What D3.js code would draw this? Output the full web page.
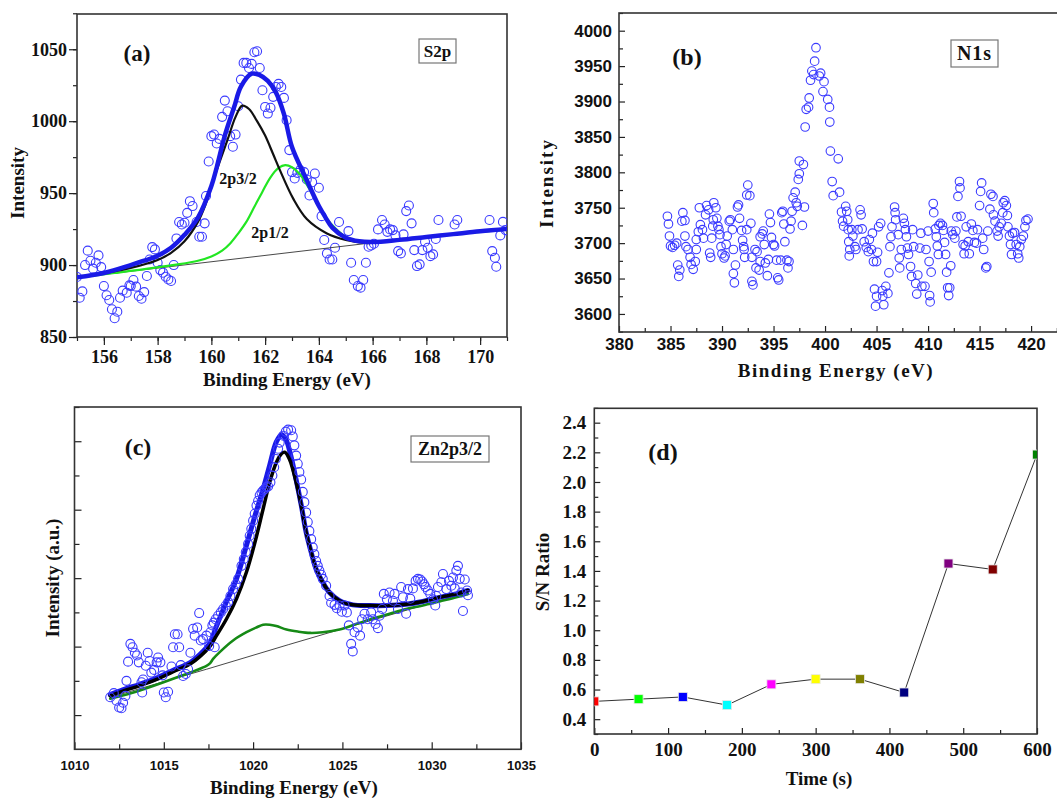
<!DOCTYPE html>
<html><head><meta charset="utf-8">
<script src="https://cdn.jsdelivr.net/npm/d3@7"></script>
<style>body{margin:0;background:#fff} svg{display:block}</style>
</head><body><script>
// ---------- (a) S2p spectrum ----------
const s2pPoints = [
[155.0,891.7],[155.1,877.3],[155.2,881.7],[155.3,900],[155.4,910],[155.5,903],[155.6,897.5],[155.7,901.6],[155.8,906.7],[155.9,898.6],
[156.0,885.4],[156.1,879],[156.2,875.7],[156.3,869.3],[156.4,863],[156.5,867.6],[156.6,877.3],[156.7,882.2],[156.85,880.8],[156.95,885.9],
[157.0,885.4],[157.1,889.6],[157.2,885],[157.3,878.5],[157.4,876.6],[157.5,881.2],[157.6,892.4],[157.7,903.9],[157.8,912.5],[157.9,910.9],
[158.0,901.6],[158.1,896.5],[158.2,894.7],[158.3,891.9],[158.4,890],[158.5,888.9],[158.6,900],[158.7,918.5],[158.8,929.9],[158.9,928.2],
[159.0,929.4],[159.1,936.3],[159.2,944.4],[159.3,941],[159.45,929.9],[159.55,919.7],[159.65,919.7],[159.75,929],[159.8,948],[159.9,972],
[160.0,989.6],[160.1,990.7],[160.2,984.5],[160.3,987.7],[160.4,1003],[160.5,1014.3],[160.6,1006.9],[160.7,989.6],[160.8,982.2],[160.9,990.7],
[161.0,1010.4],[161.1,1028.9],[161.2,1040.5],[161.3,1040.5],[161.4,1037],[161.5,1039.8],[161.6,1047.9],[161.7,1048.6],[161.8,1037],[161.9,1021.5],
[162.0,1009.9],[162.1,1005.3],[162.2,1009.3],[162.3,1016.9],[162.4,1023.8],[162.5,1025.9],[162.6,1023.8],[162.7,1016.2],[162.8,1000.7],[162.9,979.9],
[163.0,964.6],[163.1,960.2],[163.2,964.1],[163.3,966],[163.45,964.6],[163.55,959.5],[163.65,948.4],[163.75,957.6],[163.85,963.6],[164.0,953.7],
[164.1,934],[164.2,917.4],[164.3,908.1],[164.4,903.9],[164.5,903.9],[164.6,912],[164.75,929.9],[165.1,923.6],[165.2,901.6],[165.3,889.6],
[165.45,885.4],[165.55,884.3],[165.65,889.6],[165.75,901.6],[165.85,912.7],[165.95,913.6],[166.05,914.8],[166.2,924.8],[166.35,931.3],[166.45,928.2],
[166.55,923.1],[166.65,924.8],[166.75,924.3],[166.85,920.6],[166.95,909.7],[167.05,908.1],[167.15,921.3],[167.25,937.5],[167.35,941.4],[167.45,929],
[167.55,910.4],[167.65,899.3],[167.75,900.5],[167.85,910.4],[167.95,916.2],[168.05,912],[168.15,906.2],[168.25,907.4],[168.35,918.1],[168.45,931.3],
[169.05,928.2],[169.15,931.3],[170.35,931.3],[170.45,909.7],[170.55,905.1],[170.6,898.8],[170.75,920.6],[170.85,930],[170.95,924.3]
];
const s2pEnvelope = [
[155,891.5],[156,894.5],[157,900],[157.5,903],[158,906.5],[158.5,912],[159,921],[159.5,933],[160,955],[160.2,968],[160.5,990],
[160.85,1010],[161.1,1024],[161.5,1033],[161.8,1032],[162.1,1028],[162.4,1020],[162.7,1005],[163.0,982],[163.5,961],[164.0,941],
[164.25,933],[164.5,926],[165,919],[165.5,916.5],[166,916],[167,917.5],[168,919.5],[169,921.5],[170,923.5],[171,925]
];
const s2p3half = [
[155,891.3],[157,898],[158,903.5],[158.5,908.5],[159,916.5],[159.5,930],[159.8,943],[160.2,966],[160.6,987],[160.9,1003],
[161.15,1010.8],[161.4,1008.5],[161.7,1000],[162.0,990],[162.3,977],[162.55,966],[163.05,946],[163.55,932],[164.3,922],[165,917.5],[165.8,915.3],[166,915.5]
];
const s2p1half = [
[155,891.3],[156.4,894.5],[158.7,900.3],[159.5,903],[160,906],[160.4,910],[160.7,915],[161.0,922],[161.3,930],[161.6,940.5],[161.9,951],
[162.2,961],[162.5,967.5],[162.75,969.5],[163.0,968],[163.3,963],[163.8,948],[164.3,932],[164.7,924],[165.0,919.5],[165.5,916.5],[166,916],
[168,919.5],[171,924.8]
];
const s2pBaseline = [[155,891.3],[166,915.5]];

// ---------- (b) N1s spectrum ----------
const n1sPoints = [
[384.7,3738],[384.8,3727],[384.9,3710],[385.0,3696],[385.2,3694],[385.4,3697],[385.6,3700],[385.7,3669],[385.9,3662],[385.8,3653],
[386.2,3743],[386.1,3731],[386.4,3732],[386.4,3710],[386.5,3695],[386.7,3691],[386.9,3680],[387.0,3670],[387.2,3663],[387.4,3674],
[387.5,3691],[387.5,3705],[387.7,3716],[387.8,3750],[387.9,3726],[388.1,3719],[388.2,3707],[388.4,3740],[388.5,3753],[388.7,3747],
[388.8,3686],[388.9,3680],[389.0,3707],[389.1,3724],[389.15,3733],[389.2,3757],[389.4,3750],[389.5,3735],[389.6,3724],[389.7,3719],
[389.8,3712],[389.9,3695],[390.0,3685],[390.2,3679],[390.3,3682],[390.4,3698],[390.5,3710],[390.7,3731],[390.8,3733],[391.0,3719],
[391.1,3691],[391.1,3657],[391.2,3644],[391.3,3669],[391.5,3751],[391.6,3754],[391.7,3735],[391.9,3718],[392.0,3704],[392.1,3695],
[392.15,3691],[392.2,3680],[392.4,3719],[392.5,3782],[392.4,3768],[392.7,3767],[392.8,3728],[392.9,3680],[392.9,3646],[393.0,3641],
[393.2,3691],[393.3,3665],[393.4,3688],[393.6,3662],[393.7,3674],[393.7,3709],[393.9,3713],[394.0,3717],[394.1,3698],[394.2,3672],
[394.4,3654],[394.5,3677],[394.6,3741],[394.7,3729],[394.8,3708],[395.0,3698],[395.1,3696],[395.3,3676],[395.4,3651],[395.5,3648],
[395.7,3676],[395.8,3743],[395.9,3745],[396.0,3727],[396.1,3702],[396.3,3676],[396.4,3665],[396.5,3674],[396.6,3720],[396.7,3731],
[396.8,3745],[396.9,3764],[397.1,3772],[397.2,3757],[397.3,3752],[397.4,3790],[397.5,3798],[397.5,3816],[397.9,3811],[397.8,3725],
[398.0,3751],
[398.07,3864],[398.17,3889],[398.46,3905],[398.4,3892],[398.59,3930],[398.72,3943],[398.89,3938],[398.99,3957],[399.12,3976],[399.44,3936],
[399.57,3940],[399.9,3928],[399.8,3914],[400.26,3903],[400.43,3892],[400.46,3871],[400.52,3830],[400.69,3787],[400.79,3767],[401.28,3819],
[401.41,3772],
[401.6,3744],[401.7,3731],[401.8,3724],[402.0,3752],[402.1,3745],[402.2,3733],[402.25,3719],[402.3,3702],[402.4,3691],[402.35,3682],
[402.6,3719],[402.7,3710],[402.9,3695],[403.0,3691],[403.2,3719],[403.4,3747],[403.5,3740],[403.6,3720],[403.8,3702],[404.0,3694],
[404.2,3688],[404.3,3705],[404.5,3691],[404.6,3714],[404.7,3674],[405.0,3674],[405.1,3687],[405.2,3723],[405.4,3728],[404.8,3635],
[405.0,3625],[404.9,3611],[405.55,3633],[405.6,3625],[405.7,3613],[405.9,3639],[406.1,3629],[406.2,3658],[406.3,3695],[406.4,3709],
[406.5,3723],[406.75,3751],[406.8,3743],[406.85,3733],[407.1,3712],[407.2,3679],[407.25,3665],[407.4,3691],[407.6,3735],[407.7,3728],
[407.8,3719],[407.9,3709],[408.0,3693],[408.1,3684],[408.3,3667],[408.4,3653],[408.5,3719],[408.6,3695],[408.8,3643],[408.9,3628],
[409.0,3655],[409.2,3693],[409.3,3714],[409.4,3639],[409.7,3639],[409.8,3691],[410.0,3717],[410.1,3674],[410.15,3626],[410.2,3617],
[410.3,3659],[410.5,3756],[410.55,3743],[410.7,3720],[410.8,3709],[410.9,3696],[411.0,3684],[411.05,3725],[411.2,3728],[411.4,3725],
[411.5,3718],[411.6,3701],[411.7,3684],[411.8,3659],[411.9,3637],[412.0,3626],[412.1,3637],[412.2,3668],[412.25,3717],[412.4,3712],
[412.6,3707],[412.7,3717],[412.8,3737],[412.9,3766],[413.05,3787],[413.1,3778],[413.2,3738],[413.4,3698],[413.5,3685],[413.6,3696],
[413.7,3723],[413.9,3702],[414.0,3685],[414.2,3727],[414.35,3718],[414.5,3701],[414.7,3700],[414.8,3719],[415.0,3753],[415.1,3773],
[415.2,3785],[415.3,3707],[415.4,3691],[415.6,3665],[415.7,3667],[415.8,3717],[416.0,3748],[416.1,3769],[416.3,3766],[416.35,3740],
[416.5,3731],[416.7,3717],[416.8,3710],[416.9,3723],[417.1,3728],[417.25,3743],[417.3,3757],[417.45,3760],[417.6,3753],[417.7,3739],
[417.75,3723],[417.9,3710],[418.0,3698],[418.1,3684],[418.2,3714],[418.4,3715],[418.55,3698],[418.7,3685],[418.8,3679],[418.9,3695],
[419.05,3705],[419.25,3710],[419.4,3723],[419.5,3732],[419.7,3734]
];

// ---------- (c) Zn2p3/2 spectrum ----------
const znPoints = [
[1012.0,1.26],[1012.2,1.32],[1012.35,1.21],[1012.5,1.11],[1012.63,1.10],[1012.72,1.18],[1012.85,1.28],[1012.91,1.50],[1013.0,1.78],[1013.13,2.04],
[1013.25,1.99],[1013.38,1.91],[1013.5,1.87],[1013.6,1.77],[1013.75,1.48],[1013.79,1.33],[1013.84,1.52],[1013.99,1.72],[1014.1,1.91],[1014.2,1.79],
[1014.3,1.62],[1014.46,1.66],[1014.6,1.77],[1014.68,1.84],[1014.81,1.77],[1014.93,1.58],[1015.0,1.33],[1015.11,1.26],[1015.24,1.34],[1015.43,1.71],
[1015.52,1.99],[1015.62,2.18],[1015.77,2.18],[1015.86,1.99],[1015.95,1.73],[1016.08,1.57],[1016.23,1.60],[1016.36,1.67],[1016.49,1.91],[1016.64,2.26],
[1016.73,2.16],[1016.87,2.28],[1016.98,2.49],[1017.07,2.09],[1017.2,2.11],[1017.39,2.16],[1017.54,2.01],[1017.61,2.21],[1017.72,2.31],[1017.8,2.35],
[1017.85,1.99],[1017.9,2.40],[1018.04,2.45],[1018.19,2.50],[1018.32,2.55],[1018.47,2.60],[1018.6,2.65],[1018.73,2.74],[1018.88,2.84],[1019.03,2.91],
[1019.16,2.99],[1019.35,3.18],[1019.48,3.28],[1019.59,3.38],[1019.72,3.50],[1019.81,3.62],[1019.9,3.72],[1020.0,3.84],[1020.09,3.94],[1020.19,4.06],
[1020.28,4.13],[1020.37,4.21],[1020.47,4.25],[1020.56,4.28],[1020.65,4.30],[1020.75,4.33],[1020.84,4.34],[1020.97,4.40],[1021.08,4.50],[1021.18,4.62],
[1021.27,4.74],[1021.4,4.89],[1021.49,4.98],[1021.68,5.08],[1021.83,5.14],[1021.96,5.17],
[1022.13,5.16],[1022.22,5.07],[1022.31,4.94],[1022.41,4.79],[1022.5,4.67],[1022.59,4.55],[1022.69,4.44],[1022.78,4.26],[1022.87,4.11],[1022.97,3.96],
[1023.06,3.82],[1023.15,3.69],[1023.25,3.57],[1023.34,3.45],[1023.43,3.35],[1023.53,3.25],[1023.62,3.18],[1023.71,3.11],[1023.81,3.05],[1023.9,2.99],
[1024.09,2.89],[1024.28,2.74],[1024.37,2.64],[1024.56,2.61],[1024.69,2.56],[1024.84,2.60],[1024.97,2.51],[1025.12,2.60],[1025.25,2.50],[1025.36,2.31],
[1025.49,2.04],[1025.58,1.93],[1025.68,2.21],[1025.86,2.28],[1025.99,2.16],[1026.1,2.40],[1026.24,2.48],[1026.42,2.40],[1026.61,2.50],[1026.7,2.40],
[1026.86,2.33],[1026.99,2.27],[1027.08,2.45],[1027.23,2.55],[1027.32,2.77],[1027.49,2.69],[1027.64,2.79],[1027.83,2.67],[1027.92,2.77],[1028.11,2.55],
[1028.29,2.87],[1028.39,2.72],[1028.57,2.48],[1028.67,2.84],[1028.8,2.70],[1028.95,2.85],[1029.1,2.96],[1029.23,2.99],[1029.36,2.98],[1029.47,2.95],
[1029.57,2.91],[1029.66,2.87],[1029.79,2.82],[1029.92,2.77],[1030.07,2.69],[1030.2,2.60],[1030.26,2.74],[1030.35,2.87],[1030.54,2.94],[1030.63,3.06],
[1030.82,2.84],[1030.97,2.96],[1031.1,2.89],[1031.19,3.01],[1031.29,2.85],[1031.38,3.11],[1031.47,3.18],[1031.57,2.99],[1031.66,2.79],[1031.75,2.52],
[1031.85,2.98],[1031.98,2.82],[1032.03,2.75]
];
const znEnvelope = [
[1012,1.30],[1012.7,1.37],[1013.66,1.45],[1014.6,1.54],[1015.5,1.65],[1016.5,1.77],[1017.0,1.88],[1017.57,2.05],[1017.95,2.30],[1018.5,2.65],
[1019.07,2.99],[1019.63,3.48],[1020.1,3.91],[1020.56,4.30],[1020.93,4.65],[1021.3,4.99],[1021.6,5.10],[1021.85,5.02],[1022.1,4.80],[1022.4,4.45],
[1022.7,4.06],[1022.97,3.67],[1023.25,3.38],[1023.53,3.13],[1023.9,2.94],[1024.28,2.79],[1024.84,2.67],[1025.58,2.61],[1026.5,2.60],[1027.45,2.60],
[1028.57,2.62],[1029.5,2.66],[1030.44,2.72],[1031.38,2.77],[1032.03,2.82]
];
const znMainPeak = [
[1012,1.28],[1012.7,1.35],[1013.66,1.43],[1014.6,1.52],[1015.5,1.63],[1016.5,1.75],[1017.0,1.85],[1017.57,2.00],[1017.95,2.16],[1018.5,2.40],
[1019.07,2.70],[1019.63,3.09],[1020.1,3.52],[1020.56,4.01],[1020.93,4.40],[1021.3,4.69],[1021.6,4.82],[1021.77,4.84],[1022.03,4.74],[1022.41,4.40],
[1022.69,4.06],[1022.97,3.67],[1023.25,3.38],[1023.53,3.13],[1023.9,2.94],[1024.28,2.79],[1024.84,2.67],[1025.58,2.61],[1026.5,2.60],[1027.45,2.60],
[1028.57,2.62],[1029.5,2.66],[1030.44,2.72],[1031.38,2.77],[1032.03,2.82]
];
const znSecondPeak = [
[1012,1.24],[1013.66,1.36],[1015.52,1.53],[1017.39,1.72],[1017.6,1.76],[1017.76,1.82],[1018.13,1.92],[1018.88,2.09],[1019.63,2.21],[1020.19,2.28],
[1020.56,2.32],[1020.93,2.32],[1021.3,2.30],[1021.87,2.25],[1022.5,2.22],[1023.2,2.20],[1023.9,2.21],[1024.84,2.25],[1025.77,2.33],[1026.7,2.41],
[1027.64,2.48],[1028.57,2.55],[1029.5,2.60],[1030.44,2.66],[1031.38,2.72],[1032.03,2.77]
];
const znBaseline = [[1012,1.26],[1017.4,1.67],[1022.0,2.03],[1025,2.26],[1032,2.79]];

// ---------- (d) S/N ratio vs time ----------
const snTime   = [0, 60, 120, 180, 240, 300, 360, 420, 480, 540, 600];
const snRatio  = [0.52, 0.535, 0.55, 0.495, 0.635, 0.67, 0.67, 0.58, 1.45, 1.41, 2.185];
const snColors = ['#ff0000','#00ff00','#0000ff','#00ffff','#ff00ff','#ffff00','#808000','#000080','#800080','#800000','#008000'];

const serif = '"Liberation Serif","Times New Roman",serif';
const sans = '"Liberation Sans",Arial,sans-serif';

const svg = d3.select('body').append('svg').attr('width', 1057).attr('height', 798)
  .style('font-family', serif);

function range(a, b, s) { const r = []; for (let v = a; v <= b + 1e-9; v += s) r.push(+v.toFixed(4)); return r; }

function makePanel(p) {
  const x = d3.scaleLinear().domain(p.xDomain).range([p.left, p.right]);
  const y = d3.scaleLinear().domain(p.yDomain).range([p.bottom, p.top]);
  const g = svg.append('g');
  svg.append('clipPath').attr('id', 'clip-' + p.id).append('rect')
    .attr('x', p.left).attr('y', p.top).attr('width', p.right - p.left).attr('height', p.bottom - p.top);
  const s = p.inward ? -1 : 1;

  function axisGroup(gen, tr) {
    const a = g.append('g').attr('transform', tr).call(gen);
    a.select('.domain').remove();
    a.selectAll('line').attr('stroke', '#222').attr('stroke-width', 1.2);
    a.selectAll('text').attr('fill', '#111').style('font-family', p.tickFont)
      .style('font-size', p.tickSize + 'px').style('font-weight', 'bold');
    return a;
  }
  axisGroup(d3.axisBottom(x).tickValues(p.xMinor).tickSize(s * p.minorLen).tickFormat(''), `translate(0,${p.bottom})`);
  axisGroup(d3.axisBottom(x).tickValues(p.xTicks).tickSize(s * p.majorLen).tickPadding(p.xPad)
    .tickFormat(p.xFormat || d3.format('d')), `translate(0,${p.bottom})`);
  axisGroup(d3.axisLeft(y).tickValues(p.yMinor).tickSize(s * p.minorLen).tickFormat(''), `translate(${p.left},0)`);
  axisGroup(d3.axisLeft(y).tickValues(p.yTicks).tickSize(s * p.majorLen).tickPadding(p.yPad)
    .tickFormat(p.yFormat || d3.format('d')), `translate(${p.left},0)`);

  g.append('rect').attr('x', p.left).attr('y', p.top)
    .attr('width', p.right - p.left).attr('height', p.bottom - p.top)
    .attr('fill', 'none').attr('stroke', '#333').attr('stroke-width', 1.6);

  const plot = g.append('g').attr('clip-path', `url(#clip-${p.id})`);
  return { x, y, g, plot };
}

function curve(plot, x, y, pts, color, w, kind) {
  plot.append('path').datum(pts)
    .attr('d', d3.line().x(d => x(d[0])).y(d => y(d[1]))
      .curve(kind || d3.curveCatmullRom.alpha(0.5)))
    .attr('fill', 'none').attr('stroke', color).attr('stroke-width', w)
    .attr('stroke-linejoin', 'round').attr('stroke-linecap', 'round');
}

function circles(plot, x, y, pts, r) {
  plot.append('g').selectAll('circle').data(pts).join('circle')
    .attr('cx', d => x(d[0])).attr('cy', d => y(d[1])).attr('r', r)
    .attr('fill', 'none').attr('stroke', '#3b3bff').attr('stroke-width', 1.1);
}

function text(x, y, str, size, opts = {}) {
  const t = svg.append('text').attr('x', x).attr('y', y).text(str)
    .attr('text-anchor', opts.anchor || 'middle')
    .style('font-family', opts.font || serif).style('font-size', size + 'px')
    .style('font-weight', 'bold').attr('fill', '#111');
  if (opts.rotate) t.attr('transform', `rotate(-90,${x},${y})`);
  if (opts.ls) t.style('letter-spacing', opts.ls + 'px');
  return t;
}

function boxLabel(x0, y0, x1, y1, str, size, ls) {
  svg.append('rect').attr('x', x0).attr('y', y0).attr('width', x1 - x0).attr('height', y1 - y0)
    .attr('fill', '#fff').attr('stroke', '#777').attr('stroke-width', 1.2);
  text((x0 + x1) / 2, (y0 + y1) / 2 + size * 0.34, str, size, { ls: ls || 0 });
}

// ----- panel (a) -----
{
  const P = makePanel({ id: 'a', left: 77, right: 507, top: 14, bottom: 337,
    xDomain: [155, 171], yDomain: [850, 1074.5], inward: false, majorLen: 8, minorLen: 4,
    xTicks: range(156, 170, 2), xMinor: range(155, 171, 1), yTicks: range(850, 1050, 50), yMinor: range(850, 1075, 25),
    tickFont: serif, tickSize: 18, xPad: 5, yPad: 2 });
  circles(P.plot, P.x, P.y, s2pPoints, 4.5);
  curve(P.plot, P.x, P.y, s2pBaseline, '#333', 0.9, d3.curveLinear);
  curve(P.plot, P.x, P.y, s2p1half, '#22e622', 2.2);
  curve(P.plot, P.x, P.y, s2p3half, '#111', 2.2);
  curve(P.plot, P.x, P.y, s2pEnvelope, '#1a1ae6', 4.5);
  text(137, 61, '(a)', 23);
  boxLabel(419, 39, 456, 63, 'S2p', 17);
  text(238, 184, '2p3/2', 16);
  text(270, 238, '2p1/2', 16);
  text(287, 386, 'Binding Energy (eV)', 19);
  text(24, 183, 'Intensity', 19, { rotate: true });
}

// ----- panel (b) -----
{
  const P = makePanel({ id: 'b', left: 619, right: 1062, top: 13, bottom: 332,
    xDomain: [380, 423], yDomain: [3574.5, 4025], inward: true, majorLen: 6, minorLen: 4,
    xTicks: range(380, 420, 5), xMinor: range(382.5, 422.5, 5), yTicks: range(3600, 4000, 50), yMinor: range(3575, 4025, 50),
    tickFont: sans, tickSize: 17, xPad: 6, yPad: 7 });
  circles(P.plot, P.x, P.y, n1sPoints, 4.3);
  text(687, 65, '(b)', 24);
  boxLabel(951, 40, 998, 67, 'N1s', 20, 1);
  text(836, 377, 'Binding Energy (eV)', 19, { ls: 1.5 });
  text(553, 183, 'Intensity', 19, { rotate: true, ls: 2 });
}

// ----- panel (c) -----
{
  const P = makePanel({ id: 'c', left: 74.5, right: 521, top: 407, bottom: 749.3,
    xDomain: [1010, 1035], yDomain: [0.5, 5.5], inward: true, majorLen: 7, minorLen: 5,
    xTicks: range(1010, 1035, 5), xMinor: range(1012.5, 1032.5, 5), yTicks: range(1, 5, 1), yMinor: range(1.5, 5.5, 1),
    tickFont: sans, tickSize: 13, xPad: 11, yPad: 4, yFormat: () => '' });
  curve(P.plot, P.x, P.y, znBaseline, '#333', 0.9, d3.curveLinear);
  curve(P.plot, P.x, P.y, znSecondPeak, '#168a16', 2.6);
  curve(P.plot, P.x, P.y, znEnvelope, '#1a1ae6', 5);
  curve(P.plot, P.x, P.y, znMainPeak, '#000', 3.5);
  circles(P.plot, P.x, P.y, znPoints, 4.5);
  text(138, 455, '(c)', 24);
  boxLabel(411, 436, 489, 462, 'Zn2p3/2', 18);
  text(294, 794, 'Binding Energy (eV)', 19);
  text(59, 578, 'Intensity (a.u.)', 19, { rotate: true });
}

// ----- panel (d) -----
{
  const P = makePanel({ id: 'd', left: 594.3, right: 1037, top: 408.3, bottom: 734,
    xDomain: [0, 600], yDomain: [0.3, 2.497], inward: true, majorLen: 6, minorLen: 4,
    xTicks: range(0, 600, 100), xMinor: range(50, 550, 100), yTicks: range(0.4, 2.4, 0.2), yMinor: range(0.3, 2.5, 0.2),
    tickFont: serif, tickSize: 19, xPad: 9, yPad: 8, yFormat: d3.format('.1f') });
  const pts = snTime.map((t, i) => [t, snRatio[i], snColors[i]]);
  P.plot.append('path').datum(pts)
    .attr('d', d3.line().x(d => P.x(d[0])).y(d => P.y(d[1])))
    .attr('fill', 'none').attr('stroke', '#333').attr('stroke-width', 1);
  P.plot.append('g').selectAll('rect').data(pts).join('rect')
    .attr('x', d => P.x(d[0]) - 4.5).attr('y', d => P.y(d[1]) - 4.5)
    .attr('width', 9).attr('height', 9).attr('fill', d => d[2])
    .attr('stroke', '#e8e8e8').attr('stroke-width', 0.8);
  text(663, 460, '(d)', 24);
  text(819, 785, 'Time (s)', 19);
  text(549, 572, 'S/N Ratio', 19, { rotate: true });
}
</script></body></html>
